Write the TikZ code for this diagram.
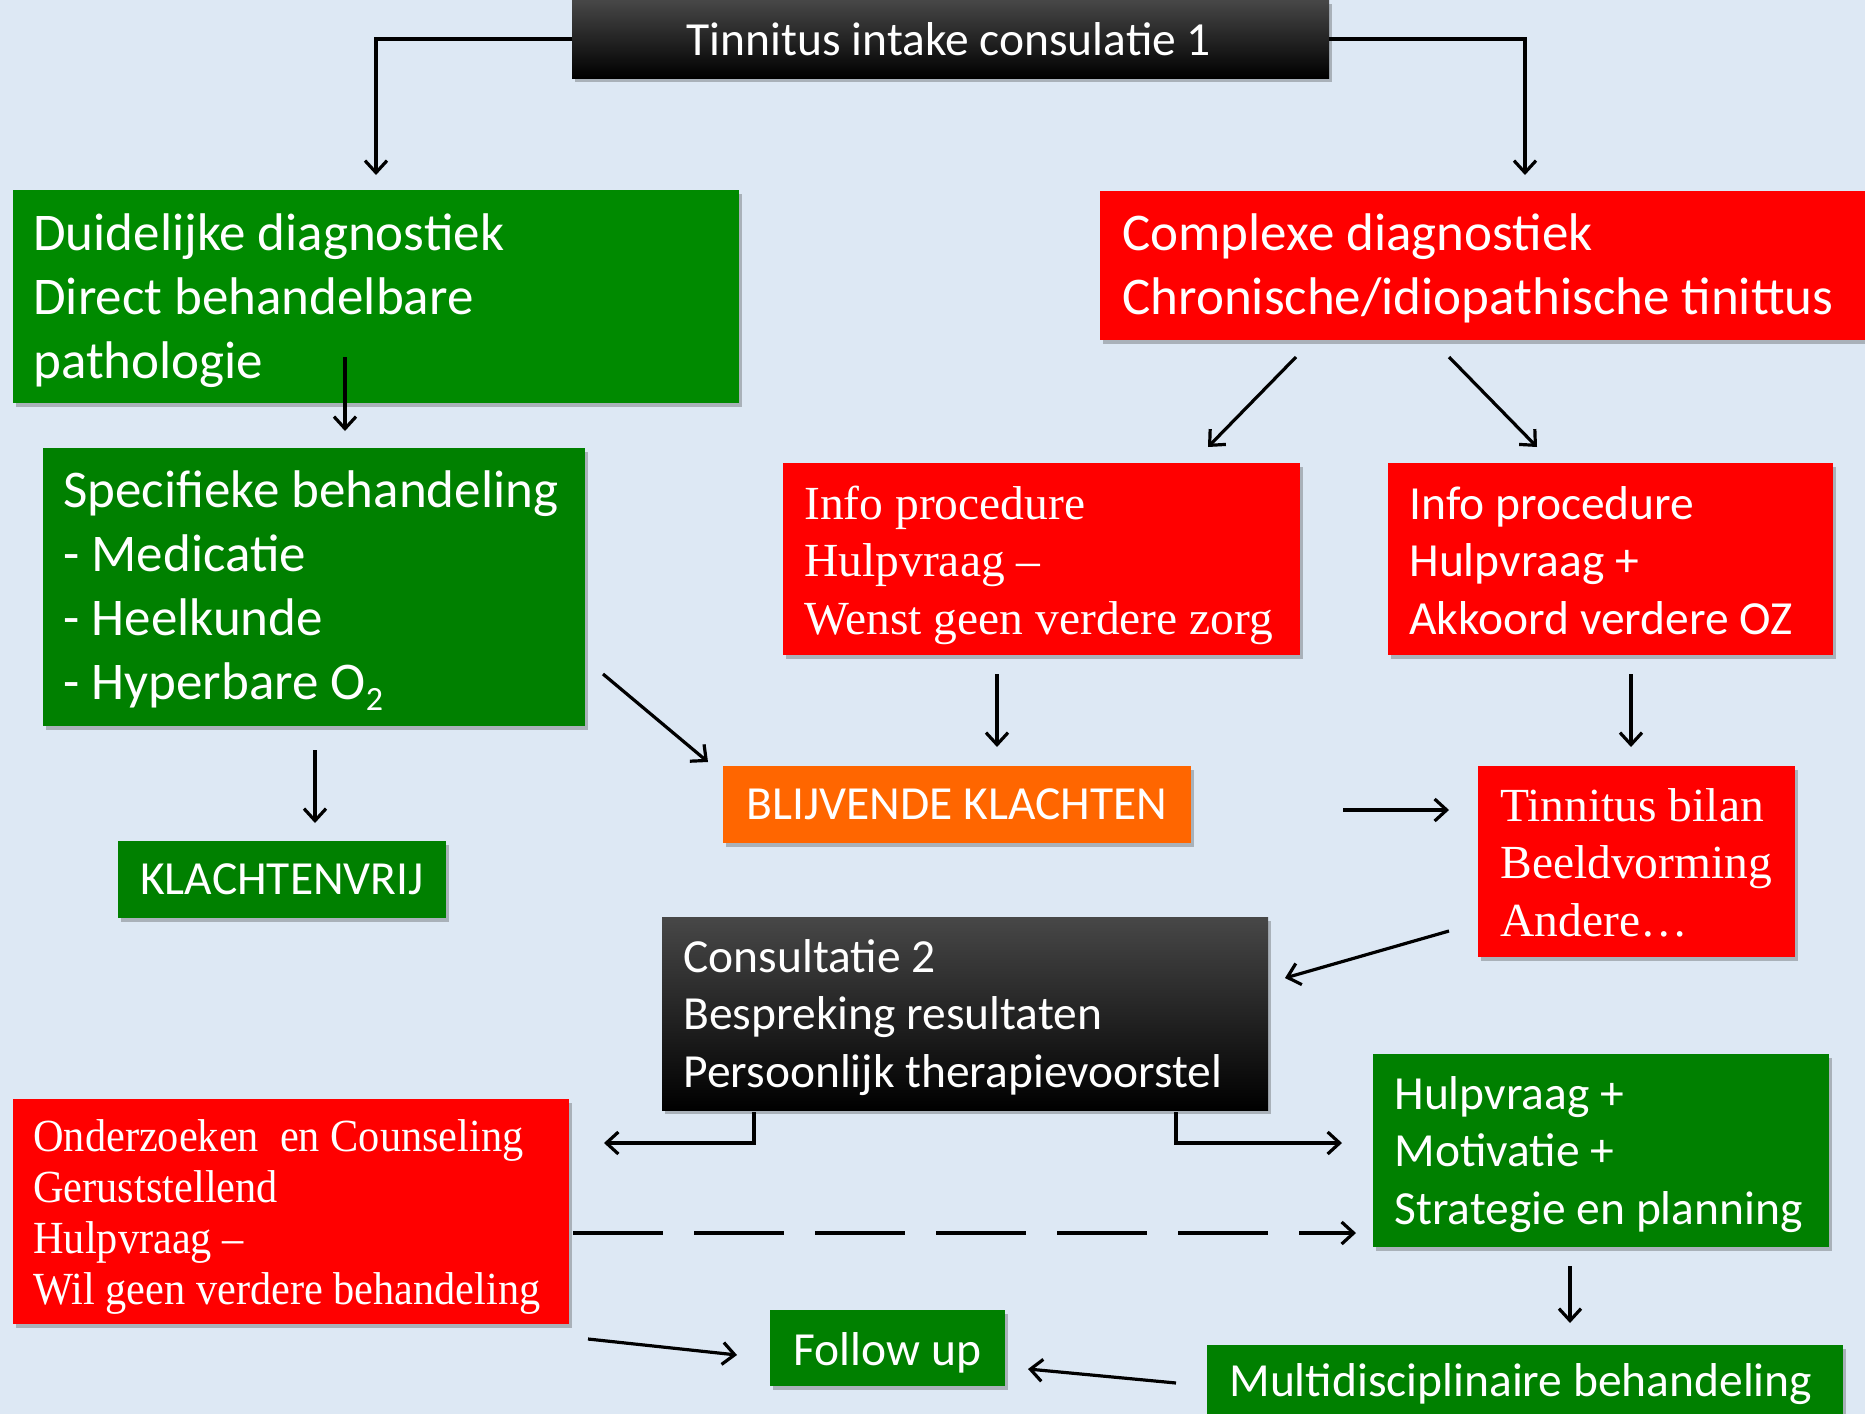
\documentclass[tikz,border=0pt]{standalone}
\usepackage{fontspec}
\setmainfont{Carlito}
\newfontfamily\serifrm{Liberation Serif}
\newfontfamily\serifnarrow[FakeStretch=0.92]{Liberation Serif}
\usetikzlibrary{arrows.meta,shadows,fit}

\definecolor{paleblue}{RGB}{221,232,244}
\definecolor{brightgreen}{RGB}{0,138,0}
\definecolor{leafgreen}{RGB}{0,128,0}
\definecolor{alarmred}{RGB}{255,0,0}
\definecolor{warnorange}{RGB}{255,102,0}

\newcommand\lowindex[1]{\raisebox{-0.45ex}{\fontsize{17}{17}\selectfont #1}}

\tikzset{
  box/.style={inner sep=0pt, outer sep=0pt,
    drop shadow={shadow xshift=1.5pt, shadow yshift=-2pt, opacity=0.3, fill=black!80}},
  greenbox/.style={box, fill=leafgreen},
  lightgreenbox/.style={box, fill=brightgreen},
  redbox/.style={box, fill=alarmred},
  orangebox/.style={box, fill=warnorange},
  blackbox/.style={box, top color=black!72, middle color=black, bottom color=black},
  % multi-line labels are anchored on the baseline of their last line
  label/.style={text=white, inner sep=0pt, anchor=base west, align=left},
  centerlabel/.style={text=white, inner sep=0pt, anchor=center},
  bigfont/.style={font=\fontsize{26.5}{32}\selectfont},
  midfont/.style={font=\fontsize{23.75}{28.75}\selectfont},
  seriffont/.style={font=\serifrm\fontsize{23.75}{28.75}\selectfont},
  narrowfont/.style={font=\serifnarrow\fontsize{23}{25.5}\selectfont},
  arr/.style={draw=black, line width=1.6pt, -{Straight Barb[length=6pt,width=11pt,line width=1.6pt]}},
  dasharr/.style={arr, dash pattern=on 45pt off 15.5pt},
}

\begin{document}
\begin{tikzpicture}[x=0.5pt,y=-0.5pt]
\fill[paleblue] (0,0) rectangle (1865,1414);
\useasboundingbox (0,0) rectangle (1865,1414);

% --- boxes -------------------------------------------------------------
\node[blackbox, fit={(572,0) (1329,78)}] (intake) {};
\node[centerlabel, midfont] (intakeT) at (949,39) {Tinnitus intake consulatie 1};

\node[lightgreenbox, fit={(13,190) (739,403)}] (clear) {};
\node[label, bigfont] (clearT) at (33,378) {Duidelijke diagnostiek\\Direct behandelbare\\pathologie};

\node[redbox, fit={(1100,191) (1880,340)}] (complex) {};
\node[label, bigfont] (complexT) at (1122,314) {Complexe diagnostiek\\Chronische/idiopathische tinittus};

\node[greenbox, fit={(43,448) (585,726)}] (specific) {};
\node[label, bigfont] (specificT) at (63,699) {Specifieke behandeling\\- Medicatie\\- Heelkunde\\- Hyperbare O\lowindex{2}};

\node[greenbox, fit={(118,841) (446,918)}] (free) {};
\node[centerlabel, midfont] (freeT) at (free.center) {KLACHTENVRIJ};

\node[redbox, fit={(783,463) (1300,655)}] (infoA) {};
\node[label, seriffont] (infoAT) at (804,634) {Info procedure\\Hulpvraag –\\Wenst geen verdere zorg};

\node[redbox, fit={(1388,463) (1833,655)}] (infoB) {};
\node[label, midfont] (infoBT) at (1409,634) {Info procedure\\Hulpvraag +\\Akkoord verdere OZ};

\node[orangebox, fit={(723,766) (1191,843)}] (remain) {};
\node[centerlabel, midfont] (remainT) at (remain.center) {BLIJVENDE KLACHTEN};

\node[redbox, fit={(1478,766) (1795,957)}] (bilan) {};
\node[label, seriffont] (bilanT) at (1500,936) {Tinnitus bilan\\Beeldvorming\\Andere\ldots};

\node[blackbox, fit={(662,917) (1268,1110)}] (consult) {};
\node[label, midfont] (consultT) at (683,1087) {Consultatie 2\\Bespreking resultaten\\Persoonlijk therapievoorstel};

\node[redbox, fit={(13,1099) (569,1324)}] (reassure) {};
\node[label, narrowfont] (reassureT) at (33,1304) {Onderzoeken\ \ en Counseling\\Geruststellend\\Hulpvraag –\\Wil geen verdere behandeling};

\node[greenbox, fit={(1373,1054) (1829,1247)}] (motiv) {};
\node[label, midfont] (motivT) at (1394,1224) {Hulpvraag +\\Motivatie +\\Strategie en planning};

\node[greenbox, fit={(1207,1345) (1843,1440)}] (multi) {};
\node[label, midfont] (multiT) at (1229,1396) {Multidisciplinaire behandeling};

\node[greenbox, fit={(770,1310) (1005,1386)}] (follow) {};
\node[centerlabel, midfont] (followT) at ([yshift=-2.5pt]follow.center) {Follow up};

% --- connector end points ------------------------------------------------
\coordinate (toClear)    at (376,175);
\coordinate (toComplex)  at (1525,175);
\coordinate (clearFrom)  at (345,357);
\coordinate (clearTo)    at (345,431);
\coordinate (specFrom)   at (315,750);
\coordinate (specTo)     at (315,823);
\coordinate (specDiagA)  at (603,674);
\coordinate (specDiagB)  at (708,762);
\coordinate (cxLeftA)    at (1296,357);
\coordinate (cxLeftB)    at (1208,447);
\coordinate (cxRightA)   at (1449,357);
\coordinate (cxRightB)   at (1537,447);
\coordinate (infoAFrom)  at (997,674);
\coordinate (infoATo)    at (997,747);
\coordinate (infoBFrom)  at (1631,674);
\coordinate (infoBTo)    at (1631,747);
\coordinate (remainFrom) at (1343,810);
\coordinate (remainTo)   at (1449,810);
\coordinate (bilanFrom)  at (1449,931);
\coordinate (bilanTo)    at (1285,978);
\coordinate (leftDrop)   at (754,1112);
\coordinate (leftEnd)    at (604,1143);
\coordinate (rightDrop)  at (1176,1112);
\coordinate (rightEnd)   at (1342,1143);
\coordinate (dashFrom)   at (573,1233);
\coordinate (dashTo)     at (1356,1233);
\coordinate (motivFrom)  at (1570,1266);
\coordinate (motivTo)    at (1570,1323);
\coordinate (reFrom)     at (588,1339);
\coordinate (reTo)       at (737,1355);
\coordinate (multiFrom)  at (1176,1383);
\coordinate (multiTo)    at (1028,1369);

% --- connectors ----------------------------------------------------------
\draw[arr] (intake.west) -| (toClear);
\draw[arr] (intake.east) -| (toComplex);
\draw[arr] (clearFrom) -- (clearTo);
\draw[arr] (specFrom) -- (specTo);
\draw[arr] (specDiagA) -- (specDiagB);
\draw[arr] (cxLeftA) -- (cxLeftB);
\draw[arr] (cxRightA) -- (cxRightB);
\draw[arr] (infoAFrom) -- (infoATo);
\draw[arr] (infoBFrom) -- (infoBTo);
\draw[arr] (remainFrom) -- (remainTo);
\draw[arr] (bilanFrom) -- (bilanTo);
\draw[arr] (leftDrop) |- (leftEnd);
\draw[arr] (rightDrop) |- (rightEnd);
\draw[dasharr] (dashFrom) -- (dashTo);
\draw[arr] (motivFrom) -- (motivTo);
\draw[arr] (reFrom) -- (reTo);
\draw[arr] (multiFrom) -- (multiTo);
\end{tikzpicture}
\end{document}
